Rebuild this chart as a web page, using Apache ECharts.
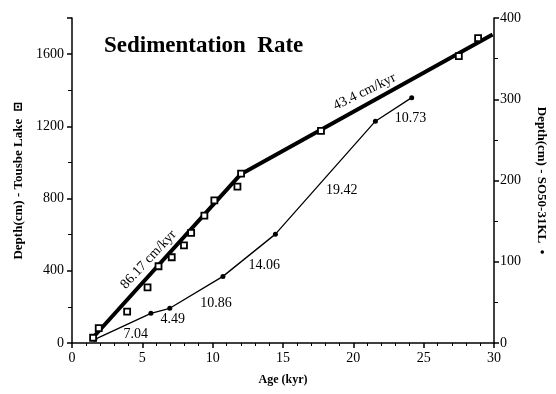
<!DOCTYPE html>
<html>
<head>
<meta charset="utf-8">
<script src="https://cdn.jsdelivr.net/npm/echarts@6/dist/echarts.min.js"></script>
<style>
  html, body { margin: 0; padding: 0; background: #fff; }
  #chart { width: 556px; height: 394px; }
</style>
</head>
<body>
<div id="chart"></div>
<script>
// Tousbe Lake core (left axis), open squares
var lakeAge   = [1.5, 1.9, 3.92, 5.37, 6.15, 7.09, 7.96, 8.47, 9.41, 10.12, 11.76, 12.02, 17.7, 27.5, 28.87];
var lakeDepth = [29, 82, 174, 308, 425, 475, 541, 610, 706, 790, 866, 938, 1175, 1589, 1689];

// fitted rate line (two segments)
var fitAge   = [1.4, 12.0, 29.9];
var fitDepth = [22, 935, 1708];

// SO50-31KL core (right axis), dots
var soAge   = [1.62, 5.61, 6.95, 10.73, 14.46, 21.57, 24.15];
var soDepth = [4.5, 36.5, 42.7, 82, 134, 273, 302];

// rate annotations, placed in left-axis data coordinates
var noteAge   = [4.53, 7.16, 10.23, 13.66, 19.18, 24.06, 5.44, 20.8];
var noteDepth = [48, 133, 221, 428, 844, 1242, 462, 1391];
var noteText  = ['7.04', '4.49', '10.86', '14.06', '19.42', '10.73', '86.17 cm/kyr', '43.4 cm/kyr'];
var noteRot   = [0, 0, 0, 0, 0, 0, 47, 26];

var serif = '"Liberation Serif", "DejaVu Serif", serif';

function pairs(xs, ys) {
  return xs.map(function(x, i) { return [x, ys[i]]; });
}

var chart = echarts.init(document.getElementById('chart'), null, {renderer: 'canvas'});

var notes = noteAge.map(function(a, i) {
  return {
    value: [a, noteDepth[i]],
    label: { formatter: noteText[i], rotate: noteRot[i] }
  };
});

var axisText = {
  color: '#000', fontFamily: serif, fontSize: 14,
  formatter: function(v) { return String(v); }
};

option = {
  animation: false,
  backgroundColor: '#fff',
  title: {
    text: 'Sedimentation  Rate',
    left: 99,
    top: 30,
    textStyle: { fontFamily: serif, fontWeight: 'bold', fontSize: 23, color: '#000' }
  },
  grid: { left: 72, right: 58, top: 18, bottom: 51, containLabel: false },
  xAxis: {
    type: 'value',
    min: 0,
    max: 30,
    interval: 5,
    name: 'Age (kyr)',
    nameLocation: 'middle',
    nameGap: 31,
    nameTextStyle: { fontFamily: serif, fontWeight: 'bold', fontSize: 12, color: '#000' },
    axisLine: { lineStyle: { color: '#000', width: 1.5 } },
    axisTick: { show: true, length: 5, lineStyle: { color: '#000', width: 1.5 } },
    minorTick: { show: true, splitNumber: 5, length: 3, lineStyle: { color: '#000' } },
    splitLine: { show: false },
    axisLabel: Object.assign({ margin: 8 }, axisText)
  },
  yAxis: [{
    type: 'value',
    min: 0,
    max: 1800,
    interval: 400,
    position: 'left',
    name: 'Depth(cm) - Tousbe Lake  \u22a1',
    nameLocation: 'middle',
    nameGap: 34,
    nameTextStyle: { fontFamily: serif, fontWeight: 'bold', fontSize: 13, color: '#000' },
    axisLine: { show: true, lineStyle: { color: '#000', width: 1.5 } },
    axisTick: { show: true, length: 5, lineStyle: { color: '#000', width: 1.5 } },
    minorTick: { show: true, splitNumber: 2, length: 4, lineStyle: { color: '#000' } },
    splitLine: { show: false },
    axisLabel: Object.assign({ margin: 8, showMaxLabel: false }, axisText)
  }, {
    type: 'value',
    min: 0,
    max: 400,
    interval: 100,
    position: 'right',
    name: 'Depth(cm) - SO50-31KL  \u2022',
    nameLocation: 'middle',
    nameRotate: -90,
    nameGap: 41,
    nameTextStyle: { fontFamily: serif, fontWeight: 'bold', fontSize: 13, color: '#000' },
    axisLine: { show: true, lineStyle: { color: '#000', width: 1.5 } },
    axisTick: { show: true, length: 5, lineStyle: { color: '#000', width: 1.5 } },
    minorTick: { show: true, splitNumber: 2, length: 4, lineStyle: { color: '#000' } },
    splitLine: { show: false },
    axisLabel: Object.assign({ margin: 6 }, axisText)
  }],
  series: [{
    name: 'fit',
    type: 'line',
    data: pairs(fitAge, fitDepth),
    showSymbol: false,
    lineStyle: { color: '#000', width: 4 },
    z: 2
  }, {
    name: 'Tousbe Lake',
    type: 'scatter',
    data: pairs(lakeAge, lakeDepth),
    symbol: 'rect',
    symbolSize: 6,
    itemStyle: { color: '#fff', borderColor: '#000', borderWidth: 1.8, opacity: 1 },
    z: 3
  }, {
    name: 'SO50-31KL',
    type: 'line',
    yAxisIndex: 1,
    data: pairs(soAge, soDepth),
    symbol: 'circle',
    symbolSize: 5,
    showAllSymbol: true,
    lineStyle: { color: '#000', width: 1.3 },
    itemStyle: { color: '#000' },
    z: 2
  }, {
    name: 'notes',
    type: 'scatter',
    data: notes,
    symbolSize: 0,
    silent: true,
    itemStyle: { opacity: 1 },
    label: {
      show: true,
      position: 'inside',
      color: '#000',
      fontFamily: serif,
      fontSize: 14
    },
    z: 4
  }]
};
chart.setOption(option);
</script>
</body>
</html>
